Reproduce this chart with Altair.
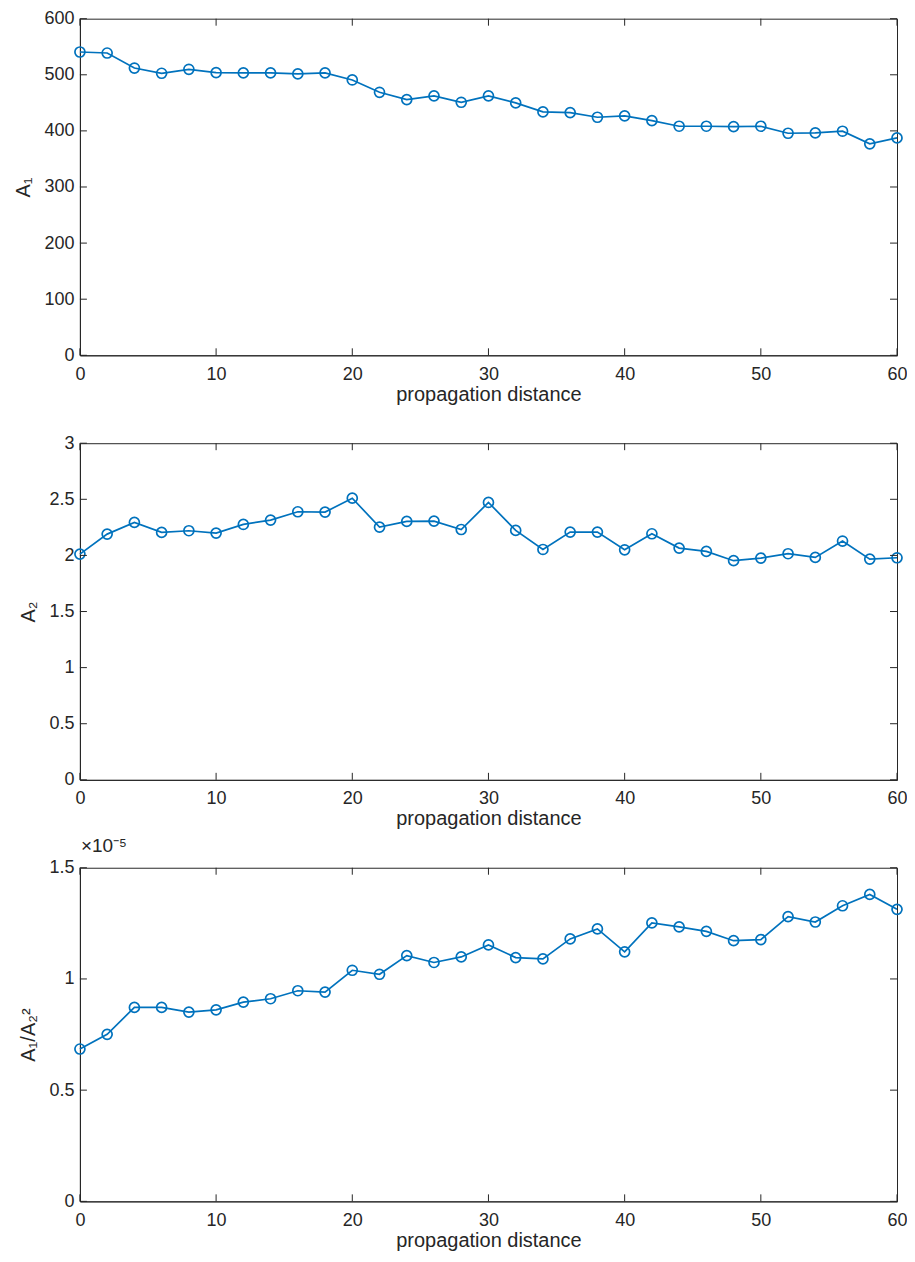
import altair as alt
import pandas as pd

# ---- data ----
distance = list(range(0, 61, 2))
a1 = [540.6, 538.8, 512.0, 502.7, 509.8, 503.9, 503.3, 503.3, 501.5, 503.3,
      490.8, 468.8, 455.8, 462.3, 451.0, 462.3, 449.9, 433.8, 432.6, 424.3,
      426.7, 418.4, 408.3, 408.3, 407.7, 408.3, 395.8, 396.4, 399.4, 376.9, 387.5]
a2 = [2.012, 2.190, 2.294, 2.205, 2.220, 2.199, 2.276, 2.315, 2.389, 2.386,
      2.510, 2.252, 2.303, 2.306, 2.231, 2.472, 2.223, 2.053, 2.208, 2.208,
      2.050, 2.193, 2.065, 2.036, 1.953, 1.976, 2.015, 1.982, 2.128, 1.967, 1.979]
# A1/A2^2 in units of 1e-5
ratio_e5 = [0.685, 0.751, 0.872, 0.872, 0.851, 0.861, 0.896, 0.911, 0.947, 0.941,
            1.039, 1.021, 1.105, 1.074, 1.099, 1.153, 1.096, 1.090, 1.180, 1.225,
            1.122, 1.252, 1.234, 1.214, 1.172, 1.177, 1.280, 1.256, 1.329, 1.380, 1.313]

x_ticks = [0, 10, 20, 30, 40, 50, 60]
a1_ticks = [0, 100, 200, 300, 400, 500, 600]
a2_ticks = [0, 0.5, 1, 1.5, 2, 2.5, 3]
ratio_ticks = [0, 0.5, 1, 1.5]

x_title = "propagation distance"

BLUE = "#0072BD"
AX = "#262626"
FONT = "Liberation Sans"
W = 818
TICK = 7
LABEL = "'' + datum.value"


def panel(values, ytitle, ydomain, yticks, h, title=None):
    df = pd.DataFrame({"d": distance, "v": values})
    xt = pd.DataFrame({"d": x_ticks})
    yt = pd.DataFrame({"v": yticks})

    xaxis = alt.Axis(values=x_ticks, title=x_title, labelExpr=LABEL, ticks=False,
                     grid=False, labelFlush=False, labelPadding=10, titlePadding=1)
    yaxis = alt.Axis(values=yticks, title=ytitle, labelExpr=LABEL, ticks=False,
                     grid=False, labelFlush=False, labelPadding=6, titlePadding=10)
    X = lambda: alt.X("d:Q", scale=alt.Scale(domain=[0, 60], nice=False), axis=xaxis)
    Y = lambda: alt.Y("v:Q", scale=alt.Scale(domain=ydomain, nice=False), axis=yaxis)

    base = alt.Chart(df)
    line = base.mark_line(color=BLUE, strokeWidth=1.7).encode(x=X(), y=Y())
    pts = base.mark_point(shape="circle", filled=False, color=BLUE, size=100,
                          strokeWidth=1.7, opacity=1).encode(x=X(), y=Y())

    tx = alt.Chart(xt)
    ty = alt.Chart(yt)
    xb = tx.mark_rule(color=AX, strokeWidth=1).encode(x=X(), y=alt.value(h), y2=alt.value(h - TICK))
    xtp = tx.mark_rule(color=AX, strokeWidth=1).encode(x=X(), y=alt.value(0), y2=alt.value(TICK))
    yl = ty.mark_rule(color=AX, strokeWidth=1).encode(y=Y(), x=alt.value(0), x2=alt.value(TICK))
    yr = ty.mark_rule(color=AX, strokeWidth=1).encode(y=Y(), x=alt.value(W), x2=alt.value(W - TICK))

    props = dict(width=W, height=h)
    if title is not None:
        props["title"] = alt.TitleParams(title, anchor="start", frame="group",
                                         fontSize=19, fontWeight="normal", font=FONT,
                                         color=AX, offset=3, dx=1)
    return alt.layer(line, pts, xb, xtp, yl, yr).properties(**props)


p1 = panel(a1, "A₁", [0, 600], a1_ticks, 337)
p2 = panel(a2, "A₂", [0, 3], a2_ticks, 337)
p3 = panel(ratio_e5, "A₁/A₂²", [0, 1.5], ratio_ticks, 334, title="×10⁻⁵")

chart = alt.vconcat(p1, p2, p3, spacing=88, bounds="flush").properties(
    padding={"left": 5, "top": 0, "right": -1, "bottom": 0}
).configure(
    background="white"
).configure_view(
    stroke=AX, strokeWidth=1
).configure_title(
    font=FONT, fontSize=19, fontWeight="normal", color=AX
).configure_axis(
    domainColor=AX, domainWidth=1, grid=False,
    labelFont=FONT, labelFontSize=18, labelColor=AX,
    titleFont=FONT, titleFontSize=20, titleFontWeight="normal", titleColor=AX,
)

chart.save("out.html", embed_options={"renderer": "svg", "actions": False})
